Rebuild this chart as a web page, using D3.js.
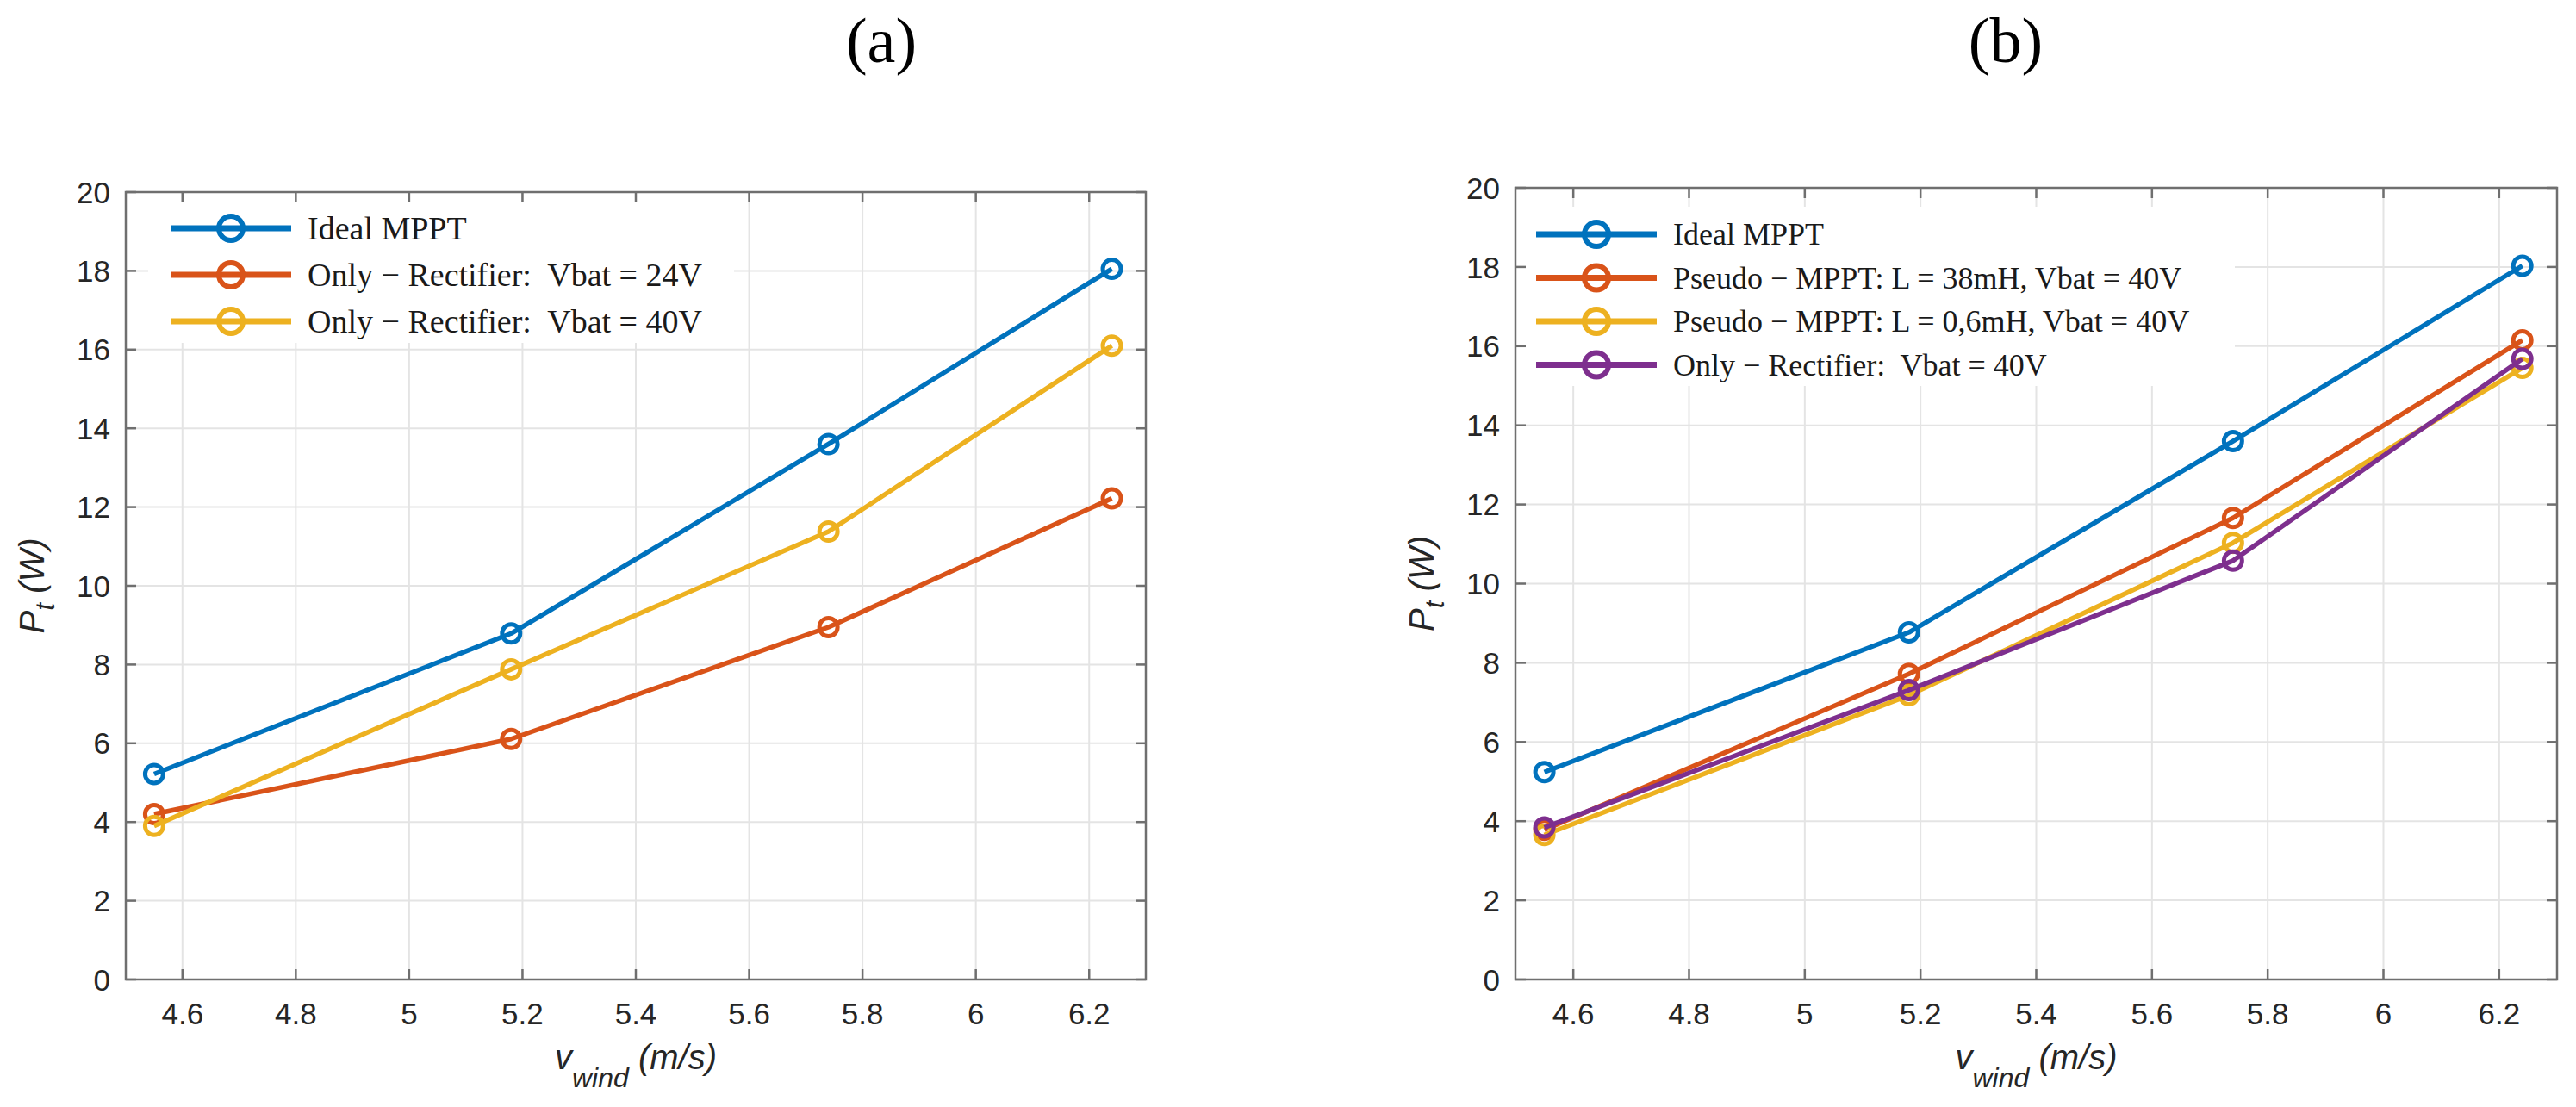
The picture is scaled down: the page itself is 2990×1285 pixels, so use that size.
<!DOCTYPE html>
<html>
<head>
<meta charset="utf-8">
<script src="https://cdn.jsdelivr.net/npm/d3@7"></script>
<style>
  body { margin: 0; background: #fff; }
  svg { display: block; }
  .tick-label { font-family: "Liberation Sans", Arial, sans-serif; fill: #262626; }
  .legend-text { font-family: "Liberation Serif", "Times New Roman", serif; fill: #1a1a1a; }
  .axis-label { font-family: "Liberation Sans", Arial, sans-serif; font-style: italic; fill: #262626; }
  .panel-title { font-family: "Liberation Serif", "Times New Roman", serif; fill: #000; }
</style>
</head>
<body>
<div id="vis"></div>
<script>
// data
const windSpeed = [4.55, 5.18, 5.74, 6.24];
const xTicks = [4.6, 4.8, 5, 5.2, 5.4, 5.6, 5.8, 6, 6.2];
const yTicks = [0, 2, 4, 6, 8, 10, 12, 14, 16, 18, 20];

// panel (a)
const idealA = [5.22, 8.79, 13.6, 18.05];
const rect24A = [4.2, 6.11, 8.95, 12.22];
const rect40A = [3.9, 7.88, 11.38, 16.1];
const namesA = ["Ideal MPPT", "Only \u2212 Rectifier:  Vbat = 24V", "Only \u2212 Rectifier:  Vbat = 40V"];

// panel (b)
const idealB = [5.24, 8.77, 13.6, 18.03];
const pseudo38B = [3.78, 7.72, 11.66, 16.15];
const pseudo06B = [3.65, 7.18, 11.03, 15.45];
const rect40B = [3.84, 7.31, 10.58, 15.68];
const namesB = ["Ideal MPPT", "Pseudo \u2212 MPPT: L = 38mH, Vbat = 40V", "Pseudo \u2212 MPPT: L = 0,6mH, Vbat = 40V", "Only \u2212 Rectifier:  Vbat = 40V"];

const colors = ["#0072BD", "#D95319", "#EDB120", "#7E2F8E"];

const W = 2990, H = 1285;
const svg = d3.select("#vis").append("svg")
  .attr("width", W)
  .attr("height", H);

svg.append("rect").attr("width", W).attr("height", H).attr("fill", "#fff");

function drawPanel(p) {
  const x = d3.scaleLinear().domain([4.5, 6.3]).range([p.left, p.right]);
  const y = d3.scaleLinear().domain([0, 20]).range([p.bottom, p.top]);
  const g = svg.append("g");

  // grid
  g.selectAll("line.gx").data(xTicks).join("line")
    .attr("x1", d => x(d)).attr("x2", d => x(d))
    .attr("y1", p.top).attr("y2", p.bottom)
    .attr("stroke", "#e4e4e4").attr("stroke-width", 2);
  g.selectAll("line.gy").data(yTicks).join("line")
    .attr("y1", d => y(d)).attr("y2", d => y(d))
    .attr("x1", p.left).attr("x2", p.right)
    .attr("stroke", "#e4e4e4").attr("stroke-width", 2);

  // legend background hides the grid behind it
  g.append("rect")
    .attr("x", p.legBox[0]).attr("y", p.legBox[1])
    .attr("width", p.legBox[2]).attr("height", p.legBox[3])
    .attr("fill", "#fff");

  // box + inward ticks on all sides
  g.append("rect")
    .attr("x", p.left).attr("y", p.top)
    .attr("width", p.right - p.left).attr("height", p.bottom - p.top)
    .attr("fill", "none").attr("stroke", "#6f6f6f").attr("stroke-width", 2.5);

  const tk = 12;
  xTicks.forEach(t => {
    g.append("line").attr("x1", x(t)).attr("x2", x(t)).attr("y1", p.bottom).attr("y2", p.bottom - tk)
      .attr("stroke", "#6f6f6f").attr("stroke-width", 2.5);
    g.append("line").attr("x1", x(t)).attr("x2", x(t)).attr("y1", p.top).attr("y2", p.top + tk)
      .attr("stroke", "#6f6f6f").attr("stroke-width", 2.5);
  });
  yTicks.forEach(t => {
    g.append("line").attr("y1", y(t)).attr("y2", y(t)).attr("x1", p.left).attr("x2", p.left + tk)
      .attr("stroke", "#6f6f6f").attr("stroke-width", 2.5);
    g.append("line").attr("y1", y(t)).attr("y2", y(t)).attr("x1", p.right).attr("x2", p.right - tk)
      .attr("stroke", "#6f6f6f").attr("stroke-width", 2.5);
  });

  // tick labels
  g.selectAll("text.xt").data(xTicks).join("text")
    .attr("class", "tick-label")
    .attr("x", d => x(d)).attr("y", p.bottom + 52)
    .attr("text-anchor", "middle")
    .style("font-size", "35px")
    .text(d => d3.format("~g")(d));
  g.selectAll("text.yt").data(yTicks).join("text")
    .attr("class", "tick-label")
    .attr("x", p.left - 18).attr("y", d => y(d))
    .attr("dy", "0.36em")
    .attr("text-anchor", "end")
    .style("font-size", "35px")
    .text(d => d);

  // axis labels
  const xl = g.append("text").attr("class", "axis-label")
    .attr("x", (p.left + p.right) / 2).attr("y", p.bottom + 104)
    .attr("text-anchor", "middle").style("font-size", "40px");
  xl.append("tspan").text("v");
  xl.append("tspan").attr("dy", 21).style("font-size", "32px").text("wind");
  xl.append("tspan").attr("dy", -21).text(" (m/s)");

  const cy = (p.top + p.bottom) / 2, bx = p.left - 95;
  const yl = g.append("text").attr("class", "axis-label")
    .attr("transform", `translate(${bx},${cy}) rotate(-90)`)
    .attr("text-anchor", "middle").style("font-size", "40px");
  yl.append("tspan").text("P");
  yl.append("tspan").attr("dy", 12).style("font-size", "32px").text("t");
  yl.append("tspan").attr("dy", -12).text(" (W)");

  // series
  const line = d3.line().x((d, i) => x(windSpeed[i])).y(d => y(d));
  p.series.forEach((s, k) => {
    g.append("path").datum(s)
      .attr("d", line)
      .attr("fill", "none")
      .attr("stroke", colors[k])
      .attr("stroke-width", 5.5)
      .attr("stroke-linejoin", "round");
    g.selectAll(null).data(s).join("circle")
      .attr("cx", (d, i) => x(windSpeed[i]))
      .attr("cy", d => y(d))
      .attr("r", 10.5)
      .attr("fill", "none")
      .attr("stroke", colors[k])
      .attr("stroke-width", 5);
  });

  // legend
  p.names.forEach((n, k) => {
    const ly = p.legY + k * p.legStep;
    g.append("line")
      .attr("x1", p.legX).attr("x2", p.legX + 140)
      .attr("y1", ly).attr("y2", ly)
      .attr("stroke", colors[k]).attr("stroke-width", 7);
    g.append("circle")
      .attr("cx", p.legX + 70).attr("cy", ly).attr("r", 14)
      .attr("fill", "none").attr("stroke", colors[k]).attr("stroke-width", 6);
    g.append("text").attr("class", "legend-text")
      .attr("x", p.legX + 159).attr("y", ly).attr("dy", "0.34em")
      .style("font-size", p.legFont + "px")
      .style("white-space", "pre")
      .text(n);
  });

  // panel title
  svg.append("text").attr("class", "panel-title")
    .attr("x", p.titleX).attr("y", 72)
    .attr("text-anchor", "middle")
    .style("font-size", "74px")
    .text(p.title);
}

drawPanel({
  left: 146, right: 1330, top: 223, bottom: 1137,
  series: [idealA, rect24A, rect40A], names: namesA,
  legX: 198, legY: 265, legStep: 54, legFont: 38,
  legBox: [172, 235, 680, 163],
  title: "(a)", titleX: 1023
});

drawPanel({
  left: 1759, right: 2968, top: 218, bottom: 1137,
  series: [idealB, pseudo38B, pseudo06B, rect40B], names: namesB,
  legX: 1783, legY: 272, legStep: 50.5, legFont: 36,
  legBox: [1770, 240, 824, 208],
  title: "(b)", titleX: 2328
});
</script>
</body>
</html>
